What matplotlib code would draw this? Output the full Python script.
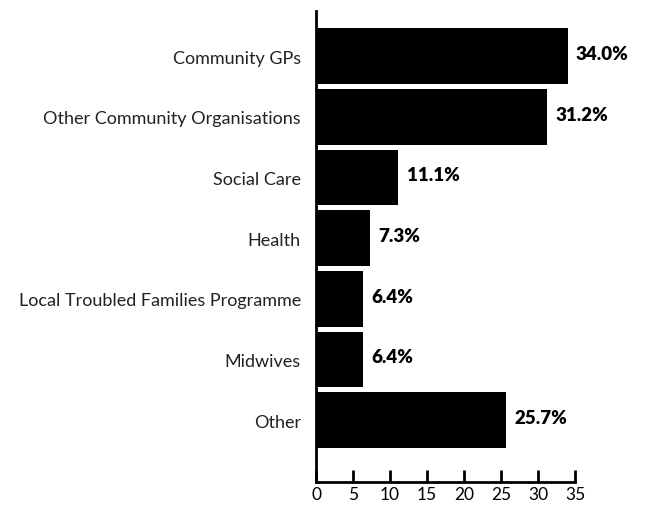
import matplotlib.pyplot as plt

categories = ['Community GPs', 'Other Community Organisations', 'Social Care', 'Health',
              'Local Troubled Families Programme', 'Midwives', 'Other']
values = [34.0, 31.2, 11.1, 7.3, 6.4, 6.4, 25.7]

plt.rcParams['font.family'] = ['Lato', 'DejaVu Sans']

fig = plt.figure(figsize=(6.49, 5.06), dpi=100)
ax = fig.add_axes([0.487, 0.0455, 0.399, 0.93])

pos = list(range(len(categories)))
ax.barh(pos, values, height=0.92, color='black')
for p, v in zip(pos, values):
    ax.annotate(f'{v:.1f}%', (v, p), xytext=(6, 2), textcoords='offset points',
                va='center', ha='left', fontsize=13.5, fontweight='heavy')

ax.set_yticks(pos)
ax.set_yticklabels(categories, fontsize=13, color='#222222')
ax.set_ylim(len(categories) - 1 + 1.02, -0.74)
ax.set_xlim(0, 35)
ax.set_xticks(range(0, 36, 5))
ax.tick_params(axis='x', direction='in', length=9, width=2, labelsize=12.5, pad=3)
ax.tick_params(axis='y', length=0, pad=11)
for s in ['top', 'right']:
    ax.spines[s].set_visible(False)
for s in ['left', 'bottom']:
    ax.spines[s].set_linewidth(2)

fig.savefig('out.png', dpi=100)
